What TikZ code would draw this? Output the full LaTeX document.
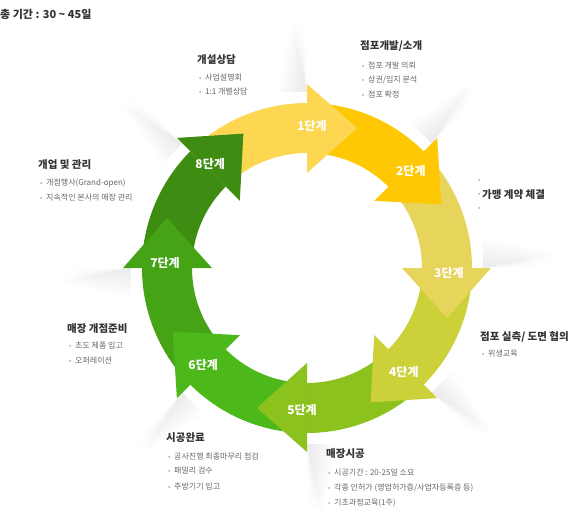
\documentclass[tikz,border=0pt]{standalone}
\usepackage{fontspec}
\setmainfont{Noto Sans CJK KR}
\usetikzlibrary{calc}

\definecolor{stepA}{HTML}{FDD652}
\definecolor{stepB}{HTML}{FFC805}
\definecolor{stepC}{HTML}{E7D45A}
\definecolor{stepD}{HTML}{CCD13A}
\definecolor{stepE}{HTML}{8CC21E}
\definecolor{stepF}{HTML}{4DB81A}
\definecolor{stepG}{HTML}{46A316}
\definecolor{stepH}{HTML}{3E8C12}
\definecolor{headgray}{HTML}{333333}
\definecolor{itemgray}{HTML}{666666}
\definecolor{dotgray}{HTML}{A8A8A8}

\newcommand{\dotmark}{\makebox[6pt][l]{\textcolor{dotgray}{\fontsize{7}{7}\selectfont •}}}

\begin{document}
\begin{tikzpicture}[x=1pt,y=-1pt,
  title/.style={anchor=west,inner sep=0pt,font=\fontsize{10.5}{12}\selectfont\bfseries,text=headgray},
  item/.style={anchor=west,inner sep=0pt,font=\fontsize{8}{10}\selectfont,text=itemgray},
  steplabel/.style={text=white,font=\fontsize{12}{14}\selectfont\bfseries}]

\useasboundingbox (0,0) rectangle (580,521);

% Total period
\node[title,font=\fontsize{11}{13}\selectfont\bfseries] (total) at (0,14) {총 기간 : 30 {\char"7E} 45일};

% Ring
\begin{scope}[shift={(307,268)},y=1pt]
% soft folds behind the heads
\foreach \k in {1,...,8} {
  \pgfmathsetmacro{\b}{90-45*(\k-1)}
  \foreach \w in {3,6,...,30} {
    \fill[black,opacity=0.006] ({\b}:176) -- ($({\b}:245)+({\b+90}:\w/2)$) -- ($({\b}:176)+({\b+90}:\w)$) -- cycle;
  }
}
% Bodies
\foreach \k/\col in {1/stepA,2/stepB,3/stepC,4/stepD,5/stepE,6/stepF,7/stepG,8/stepH} {
  \pgfmathsetmacro{\b}{90-45*(\k-1)}
  \fill[\col] ({\b+45}:165) arc[start angle=\b+45,end angle=\b,radius=165]
    -- ({\b}:115) arc[start angle=\b,end angle=\b+45,radius=115] -- cycle;
}
% Heads
\foreach \k/\col in {1/stepA,2/stepB,3/stepC,4/stepD,5/stepE,6/stepF,7/stepG,8/stepH} {
  \pgfmathsetmacro{\b}{90-45*(\k-1)}
  \fill[\col] ({\b}:95) -- ({\b}:184) -- ($({\b}:140)+({\b-90}:50)$) -- cycle;
  \node[steplabel] (s\k) at ({\b-2}:142) {\k{}단계};
}
\end{scope}

% Stage 1
\node[title] (h1) at (197,60) {개설상담};
\node[item] (h1a) at (199,78) {\dotmark 사업설명회};
\node[item] (h1b) at (199,92) {\dotmark 1:1 개별상담};

% Stage 2
\node[title] (h2) at (360,46) {점포개발/소개};
\node[item] (h2a) at (362,66) {\dotmark 점포 개발 의뢰};
\node[item] (h2b) at (362,80) {\dotmark 상권/입지 분석};
\node[item] (h2c) at (362,94) {\dotmark 점포 확정};

% Stage 3
\node[item] (h3a) at (478,181) {\dotmark};
\node[item] (h3b) at (478,195) {\dotmark};
\node[item] (h3c) at (478,209) {\dotmark};
\node[title] (h3) at (482,195) {가맹 계약 체결};

% Stage 4
\node[title] (h4) at (480,337) {점포 실측/ 도면 협의};
\node[item] (h4a) at (482,354) {\dotmark 위생교육};

% Stage 5
\node[title] (h5) at (326,454) {매장시공};
\node[item] (h5a) at (328,473) {\dotmark 시공기간 : 20-25일 소요};
\node[item] (h5b) at (328,488) {\dotmark 각종 인허가 (영업허가증/사업자등록증 등)};
\node[item] (h5c) at (328,503) {\dotmark 기초과정교육(1주)};

% Stage 6
\node[title] (h6) at (166,438) {시공완료};
\node[item] (h6a) at (168,457) {\dotmark 공사진행 최종마무리 점검};
\node[item] (h6b) at (168,471) {\dotmark 패밀리 검수};
\node[item] (h6c) at (168,486) {\dotmark 주방기기 입고};

% Stage 7
\node[title] (h7) at (67,329) {매장 개점준비};
\node[item] (h7a) at (69,346) {\dotmark 초도 제품 입고};
\node[item] (h7b) at (69,361) {\dotmark 오퍼레이션};

% Stage 8
\node[title] (h8) at (38,165) {개업 및 관리};
\node[item] (h8a) at (40,183) {\dotmark 개점행사(Grand-open)};
\node[item] (h8b) at (40,198) {\dotmark 지속적인 본사의 매장 관리};

\end{tikzpicture}
\end{document}
